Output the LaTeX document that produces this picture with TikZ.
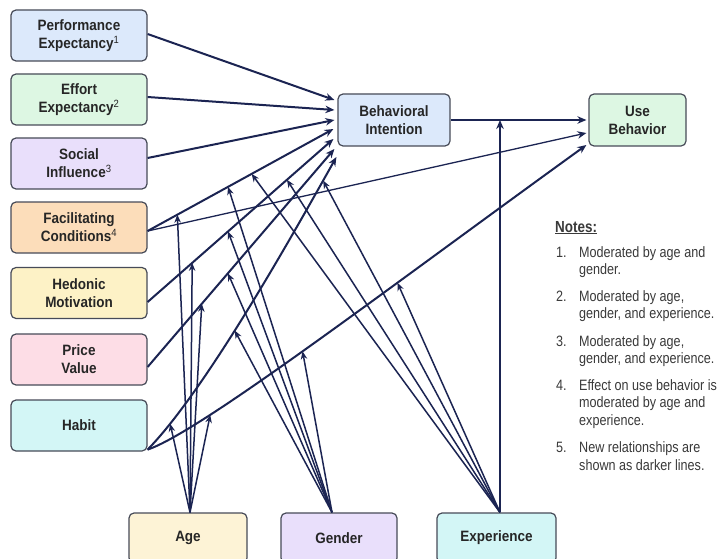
\documentclass[tikz,border=0pt]{standalone}
\usepackage{fontspec}
\setmainfont{Liberation Sans}
\newfontfamily\notesfont[FakeStretch=0.84]{Liberation Sans}
\newfontfamily\labfont[FakeStretch=0.9]{Liberation Sans}
\usetikzlibrary{arrows.meta,calc}
\definecolor{navy}{HTML}{1B2452}
\definecolor{boxline}{HTML}{474B58}
\definecolor{labtext}{HTML}{262626}
\definecolor{notetext}{HTML}{3A3A3A}
\definecolor{cblue}{HTML}{DCE9FB}
\definecolor{cgreen}{HTML}{DDF7E3}
\definecolor{clav}{HTML}{E9DFFB}
\definecolor{cpeach}{HTML}{FCDDBA}
\definecolor{cyellow}{HTML}{FDF2C6}
\definecolor{cpink}{HTML}{FDDDE6}
\definecolor{ccyan}{HTML}{D3F6F6}
\definecolor{cageyel}{HTML}{FDF3D6}
\newcommand{\supnum}[1]{{\mdseries\textsuperscript{#1}}}
\begin{document}
\begin{tikzpicture}[x=1pt,y=-1pt,
 box/.style={draw=boxline, line width=1.2pt, rounded corners=5pt, align=center, inner sep=0pt, text=labtext, font=\labfont\bfseries\fontsize{15}{18}\selectfont},
 lbox/.style={box, minimum width=136pt, minimum height=51pt},
 main/.style={draw=navy, line width=2pt, -{Stealth[length=9pt,width=7.5pt]}},
 thinarrow/.style={draw=navy, line width=1.3pt, -{Stealth[length=9pt,width=7.5pt]}},
 mod/.style={draw=navy, line width=1.5pt, -{Stealth[length=8pt,width=6.5pt]}},
 note/.style={inner sep=0pt, text=notetext, font=\notesfont\fontsize{15}{17.5}\selectfont, anchor=base west}]
\useasboundingbox (0,0) rectangle (720,559);
\clip (0,0) rectangle (720,559);
\fill[white] (0,0) rectangle (720,559);

% ---------- boxes ----------
\node[lbox, fill=cblue]   (pe)    at (79,35.5)  {Performance\\Expectancy\supnum{1}};
\node[lbox, fill=cgreen]  (ee)    at (79,99.5)  {Effort\\Expectancy\supnum{2}};
\node[lbox, fill=clav]    (si)    at (79,163.5) {Social\\Influence\supnum{3}};
\node[lbox, fill=cpeach]  (fc)    at (79,227.5) {Facilitating\\Conditions\supnum{4}};
\node[lbox, fill=cyellow] (hm)    at (79,293)   {Hedonic\\Motivation};
\node[lbox, fill=cpink]   (pv)    at (79,359.5) {Price\\Value};
\node[lbox, fill=ccyan]   (habit) at (79,425.5) {Habit};

\node[box, fill=cblue, minimum width=112pt, minimum height=52pt] (bi) at (394,120) {Behavioral\\Intention};
\node[box, fill=cgreen, minimum width=97pt, minimum height=52pt] (ub) at (637.5,120) {Use\\Behavior};

\node[box, fill=cageyel, minimum width=118pt, minimum height=50pt] (age)    at (188,538)   {Age};
\node[box, fill=clav,    minimum width=116pt, minimum height=50pt] (gender) at (339,538)   {Gender};
\node[box, fill=ccyan,   minimum width=119pt, minimum height=50pt] (exper)  at (496.5,538) {Experience};

% ---------- anchor points ----------
\coordinate (peS)  at ($(pe.east)+(0,-1.5)$);
\coordinate (eeS)  at ($(ee.east)+(0,-2.5)$);
\coordinate (siS)  at ($(si.east)+(0,-5.5)$);
\coordinate (fcS)  at ($(fc.east)+(0,3.5)$);
\coordinate (hmS)  at ($(hm.east)+(0,9)$);
\coordinate (pvS)  at ($(pv.east)+(0,7.5)$);
\coordinate (habS) at ($(habit.south east)+(0,-2)$);

\coordinate (peE)  at ($(bi.west)+(-3,-20)$);
\coordinate (eeE)  at ($(bi.west)+(-3,-10)$);
\coordinate (siE)  at ($(bi.west)+(-3,0)$);
\coordinate (fcE)  at ($(bi.west)+(-4,9)$);
\coordinate (hmE)  at ($(bi.west)+(-4,19)$);
\coordinate (pvE)  at ($(bi.west)+(-3,29)$);
\coordinate (habE) at ($(bi.west)+(-1,37)$);

\coordinate (biuE)  at ($(ub.west)+(-2,0)$);
\coordinate (fcuE)  at ($(ub.west)+(-2,13)$);
\coordinate (habuE) at ($(ub.west)+(-2,25)$);

\coordinate (ageF) at ($(age.north)+(2,0)$);
\coordinate (genF) at ($(gender.north)+(-7,0)$);
\coordinate (expF) at ($(exper.north)+(3.5,0)$);

% ---------- main relationships ----------
\draw[main] (peS) -- (peE);
\draw[main] (eeS) -- (eeE);
\draw[main] (siS) -- (siE);
\draw[main] (fcS) -- (fcE) coordinate[pos=0.16] (fcA) coordinate[pos=0.433] (fcG) coordinate[pos=0.56] (fcX);
\draw[thinarrow] (fcS) -- (fcuE);
\draw[main] (hmS) -- (hmE) coordinate[pos=0.24] (hmA) coordinate[pos=0.433] (hmG) coordinate[pos=0.75] (hmX);
\draw[main] (pvS) -- (pvE) coordinate[pos=0.29] (pvA) coordinate[pos=0.43] (pvG);
\draw[main] (habS) .. controls (207,389) and (297,227) .. (habE)
  coordinate[pos=0.12] (hbA) coordinate[pos=0.43] (hbG) coordinate[pos=0.9] (hbX);
\draw[main] (habS) .. controls (200,432) and (387,289) .. (habuE)
  coordinate[pos=0.25] (huA) coordinate[pos=0.48] (huG) coordinate[pos=0.67] (huX);
\draw[main] (bi.east) -- (biuE);

% ---------- moderators ----------
\draw[mod] (ageF) -- (fcA);
\draw[mod] (ageF) -- (hmA);
\draw[mod] (ageF) -- (pvA);
\draw[mod] (ageF) -- (hbA);
\draw[mod] (ageF) -- (huA);

\draw[mod] (genF) -- (fcG);
\draw[mod] (genF) -- (hmG);
\draw[mod] (genF) -- (pvG);
\draw[mod] (genF) -- (hbG);
\draw[mod] (genF) -- (huG);

\draw[mod] (expF) -- (fcX);
\draw[mod] (expF) -- (hmX);
\draw[mod] (expF) -- (hbX);
\draw[mod] (expF) -- (huX);
\draw[main, line width=1.8pt] (expF) -- (expF |- bi.east);

% ---------- notes ----------
\node[note, font=\notesfont\bfseries\fontsize{16}{18}\selectfont] (ntitle) at (555,232) {\underline{Notes:}};
\node[note] (k1) at (556,257) {1.};
\node[note] (l1a) at (579,257) {Moderated by age and};
\node[note] (l1b) at (579,274.5) {gender.};
\node[note] (k2) at (556,301) {2.};
\node[note] (l2a) at (579,301) {Moderated by age,};
\node[note] (l2b) at (579,318.5) {gender, and experience.};
\node[note] (k3) at (556,346) {3.};
\node[note] (l3a) at (579,346) {Moderated by age,};
\node[note] (l3b) at (579,363.5) {gender, and experience.};
\node[note] (k4) at (556,390) {4.};
\node[note] (l4a) at (579,390) {Effect on use behavior is};
\node[note] (l4b) at (579,407.5) {moderated by age and};
\node[note] (l4c) at (579,425) {experience.};
\node[note] (k5) at (556,452.5) {5.};
\node[note] (l5a) at (579,452.5) {New relationships are};
\node[note] (l5b) at (579,470) {shown as darker lines.};
\end{tikzpicture}
\end{document}
